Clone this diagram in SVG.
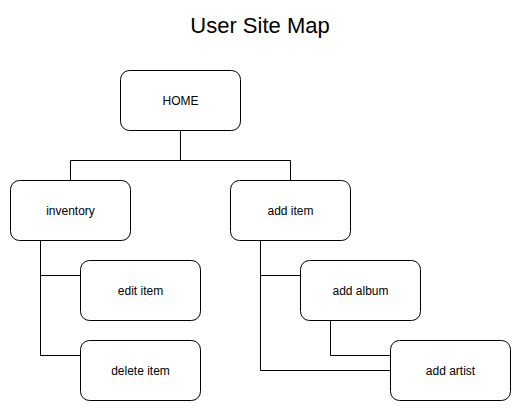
<svg xmlns="http://www.w3.org/2000/svg" width="521" height="411" viewBox="0 0 521 411">
<style>
.box{fill:#ffffff;stroke:#000000;stroke-width:1}
.lbl{font-family:"Liberation Sans",Arial,Helvetica,sans-serif;font-size:12px;fill:#000000;text-anchor:middle}
.ttl{font-family:"Liberation Sans",Arial,Helvetica,sans-serif;font-size:22px;fill:#000000;text-anchor:middle}
.conn{fill:none;stroke:#000000;stroke-width:1}
</style>
<rect width="521" height="411" fill="#ffffff"/>
<text class="ttl" x="260" y="33">User Site Map</text>
<g id="connectors">
<path class="conn" d="M180.5 130.5 V160.5 H70.5 V180.5"/>
<path class="conn" d="M180.5 160.5 H290.5 V180.5"/>
<path class="conn" d="M40.5 240.5 V355.5 H80.5"/>
<path class="conn" d="M40.5 275.5 H80.5"/>
<path class="conn" d="M260.5 240.5 V370.5 H390.5"/>
<path class="conn" d="M260.5 275.5 H300.5"/>
<path class="conn" d="M330.5 320.5 V355.5 H390.5"/>
</g>
<g id="home">
<rect class="box" x="120.5" y="70.5" width="120" height="60" rx="9" ry="9"/>
<text class="lbl" x="180.5" y="104.5">HOME</text>
</g>
<g id="inventory">
<rect class="box" x="10.5" y="180.5" width="120" height="60" rx="9" ry="9"/>
<text class="lbl" x="70.5" y="214.5">inventory</text>
</g>
<g id="add-item">
<rect class="box" x="230.5" y="180.5" width="120" height="60" rx="9" ry="9"/>
<text class="lbl" x="290.5" y="214.5">add item</text>
</g>
<g id="edit-item">
<rect class="box" x="80.5" y="260.5" width="120" height="60" rx="9" ry="9"/>
<text class="lbl" x="140.5" y="294.5">edit item</text>
</g>
<g id="delete-item">
<rect class="box" x="80.5" y="340.5" width="120" height="60" rx="9" ry="9"/>
<text class="lbl" x="140.5" y="374.5">delete item</text>
</g>
<g id="add-album">
<rect class="box" x="300.5" y="260.5" width="120" height="60" rx="9" ry="9"/>
<text class="lbl" x="360.5" y="294.5">add album</text>
</g>
<g id="add-artist">
<rect class="box" x="390.5" y="340.5" width="120" height="60" rx="9" ry="9"/>
<text class="lbl" x="450.5" y="374.5">add artist</text>
</g>
</svg>
